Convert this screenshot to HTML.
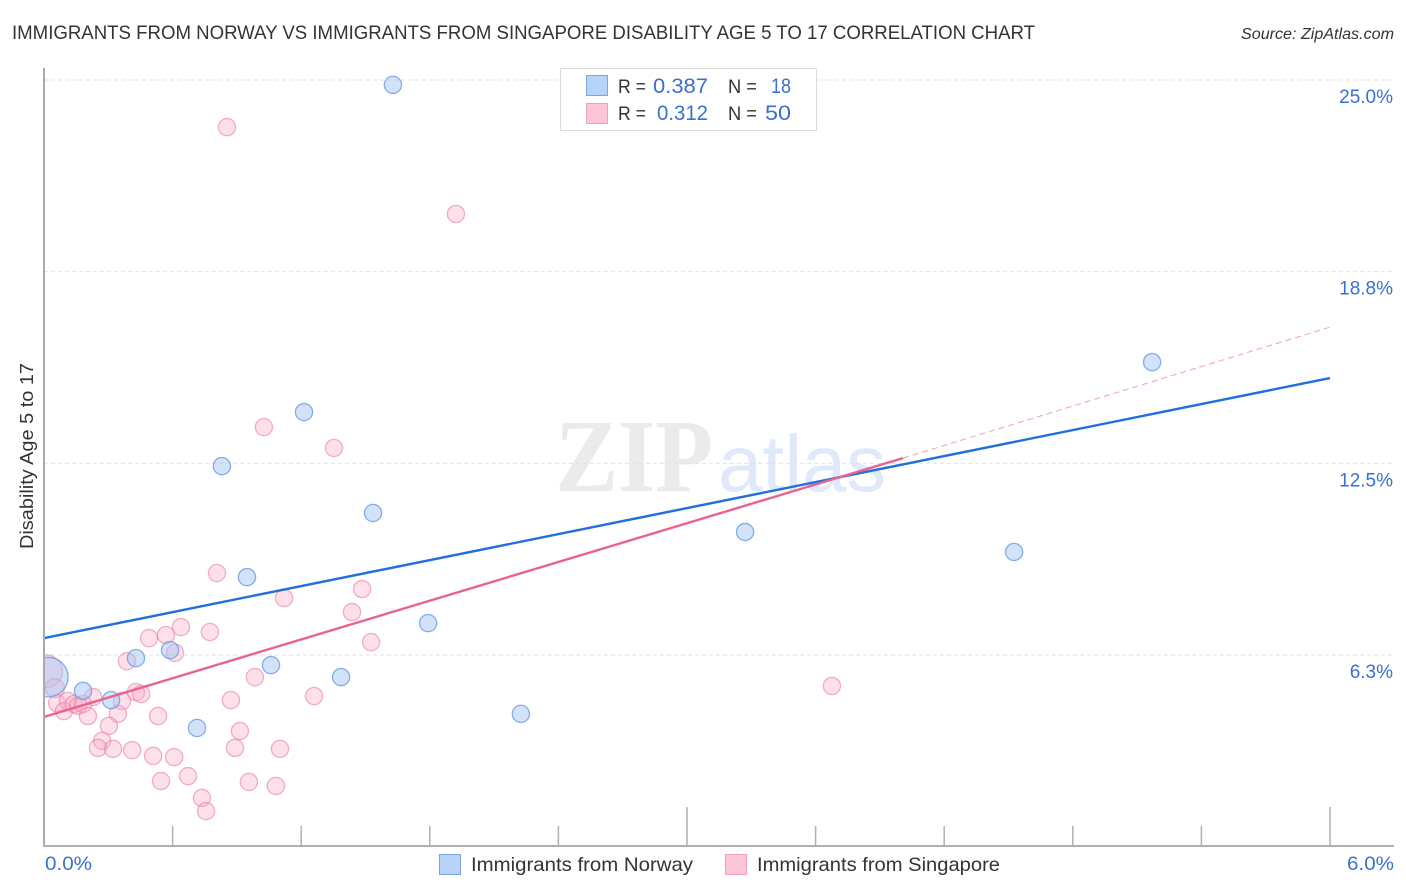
<!DOCTYPE html>
<html lang="en">
<head>
<meta charset="utf-8">
<title>Immigrants from Norway vs Immigrants from Singapore Disability Age 5 to 17 Correlation Chart</title>
<style>
html,body{margin:0;padding:0;background:#fff;}
body{width:1406px;height:892px;overflow:hidden;}
svg{display:block;font-family:"Liberation Sans",sans-serif;}
</style>
</head>
<body>
<svg id="chart" xmlns="http://www.w3.org/2000/svg" width="1406" height="892" viewBox="0 0 1406 892">
  <defs><clipPath id="plot-clip"><rect x="45" y="60" width="1349" height="786"/></clipPath></defs>
  <text x="12" y="39" font-size="19.5" fill="#333" textLength="1023" lengthAdjust="spacingAndGlyphs">IMMIGRANTS FROM NORWAY VS IMMIGRANTS FROM SINGAPORE DISABILITY AGE 5 TO 17 CORRELATION CHART</text>
  <text x="1241" y="39" font-size="16" font-style="italic" fill="#333" textLength="153" lengthAdjust="spacingAndGlyphs">Source: ZipAtlas.com</text>
  <text x="555" y="491" font-family="'Liberation Serif',serif" font-weight="bold" font-size="104" fill="#ebebeb" textLength="158" lengthAdjust="spacingAndGlyphs">ZIP</text>
  <text x="718" y="491" font-size="80" fill="#dfe9f9" textLength="168" lengthAdjust="spacingAndGlyphs">atlas</text>
  <g id="grid"></g>
  <g id="axes"></g>
  <g id="points" clip-path="url(#plot-clip)"></g>
  <g id="trends" clip-path="url(#plot-clip)"></g>
  <g id="labels"></g>
  <text transform="translate(33,456) rotate(-90)" font-size="18" fill="#333" text-anchor="middle" textLength="186" lengthAdjust="spacingAndGlyphs">Disability Age 5 to 17</text>

  <g>
    <rect x="560.5" y="68.5" width="256" height="62" fill="#fff" stroke="#dcdcdc" stroke-width="1"/>
    <rect x="586.5" y="75.5" width="21" height="20" fill="#b8d3f8" stroke="#7aa5e0"/>
    <rect x="586.5" y="103.5" width="21" height="20" fill="#fcc6d8" stroke="#eea0bb"/>
    <text x="618" y="93" font-size="19.5" fill="#333" textLength="28" lengthAdjust="spacingAndGlyphs">R =</text>
    <text x="653" y="93" font-size="21" fill="#3a70d0" textLength="55" lengthAdjust="spacingAndGlyphs">0.387</text>
    <text x="728" y="93" font-size="19.5" fill="#333" textLength="29" lengthAdjust="spacingAndGlyphs">N =</text>
    <text x="771" y="93" font-size="21" fill="#3a70d0" textLength="20" lengthAdjust="spacingAndGlyphs">18</text>
    <text x="618" y="120" font-size="19.5" fill="#333" textLength="28" lengthAdjust="spacingAndGlyphs">R =</text>
    <text x="657" y="120" font-size="21" fill="#3a70d0" textLength="51" lengthAdjust="spacingAndGlyphs">0.312</text>
    <text x="728" y="120" font-size="19.5" fill="#333" textLength="29" lengthAdjust="spacingAndGlyphs">N =</text>
    <text x="765" y="120" font-size="21" fill="#3a70d0" textLength="26" lengthAdjust="spacingAndGlyphs">50</text>
  </g>

  <g>
    <rect x="439.5" y="854.5" width="21" height="20" fill="#b8d3f8" stroke="#7aa5e0"/>
    <text x="471" y="871" font-size="19.5" fill="#333" textLength="222" lengthAdjust="spacingAndGlyphs">Immigrants from Norway</text>
    <rect x="725.5" y="854.5" width="21" height="20" fill="#fcc6d8" stroke="#eea0bb"/>
    <text x="757" y="871" font-size="19.5" fill="#333" textLength="243" lengthAdjust="spacingAndGlyphs">Immigrants from Singapore</text>
  </g>
</svg>
<script>
const norwayX = [1.628,5.170,1.213,0.830,1.535,3.271,4.526,0.947,1.792,0.429,0.588,1.059,1.386,0.182,0.313,0.714,2.225,0.020];
const norwayY = [24.84,15.80,14.17,12.41,10.88,10.26,9.61,8.79,7.29,6.15,6.41,5.92,5.53,5.08,4.78,3.87,4.33,5.53];
const norwaySize = [1,1,1,1,1,1,1,1,1,1,1,1,1,1,1,1,1,2.3];
const singaporeX = [0.854,1.922,1.026,1.353,0.807,1.484,1.120,1.437,0.639,0.774,0.490,0.569,1.526,0.611,0.387,0.984,0.010,0.051,3.676,0.429,0.453,1.260,0.872,0.364,0.229,0.061,0.112,0.093,0.140,0.159,0.182,0.205,0.345,0.532,0.303,0.914,0.271,0.252,0.322,0.411,0.509,0.607,0.891,1.101,0.672,0.546,0.956,1.082,0.737,0.756];
const singaporeY = [23.46,20.63,13.68,13.00,8.92,8.40,8.11,7.65,7.16,7.00,6.80,6.90,6.67,6.32,6.05,5.53,5.72,5.17,5.24,5.04,4.98,4.91,4.78,4.75,4.88,4.68,4.75,4.42,4.65,4.59,4.65,4.26,4.33,4.26,3.94,3.77,3.45,3.22,3.19,3.15,2.96,2.92,3.22,3.19,2.30,2.14,2.11,1.98,1.59,1.16];
const singaporeSize = [1,1,1,1,1,1,1,1,1,1,1,1,1,1,1,1,1.9,1.1,1,1,1,1,1,1,1,1,1,1,1,1,1,1,1,1,1,1,1,1,1,1,1,1,1,1,1,1,1,1,1,1];
const yTickValues = [6.25,12.5,18.75,25];
const yTickLabels = ["6.3%","12.5%","18.8%","25.0%"];
const xTickValues = [0,0.6,1.2,1.8,2.4,3,3.6,4.2,4.8,5.4,6];
const xTickMajor = [0,0,0,0,0,1,0,0,0,0,1];
const xEndLabels = ["0.0%","6.0%"];
const norwayTrendX = [0,6];
const norwayTrendY = [6.80,15.28];
const singaporeTrendX = [0,4.008];
const singaporeTrendY = [4.23,12.67];
const singaporeDashX = [4.008,6];
const singaporeDashY = [12.67,16.94];

const NS = 'http://www.w3.org/2000/svg';
function xScale(v){ return 44 + v * 1286 / 6; }
function yScale(v){ return 655 - (v - 6.25) * 30.67; }
function make(tag, parent, attrs){
  const el = document.createElementNS(NS, tag);
  for (const k in attrs) el.setAttribute(k, attrs[k]);
  document.getElementById(parent).appendChild(el);
  return el;
}

yTickValues.forEach(function(v, i){
  const g = make('line', 'grid', {x1:44, x2:1394, y1:yScale(v), y2:yScale(v), stroke:'#e2e2e2', 'stroke-width':1, 'stroke-dasharray':'4 3'});
  
  
  const t = make('text', 'labels', {x:1393, y:yScale(v) + 23, 'font-size':19, fill:'#3a70d0', 'text-anchor':'end'});
  t.textContent = yTickLabels[i];
  
  
});

const yAxis = make('line', 'axes', {x1:44, x2:44, y1:68, y2:847, stroke:'#aaa', 'stroke-width':2});


const xAxis = make('line', 'axes', {x1:43, x2:1394, y1:846, y2:846, stroke:'#b0b0b0', 'stroke-width':2});



xTickValues.forEach(function(v, i){
  if (v === 0) return;
  const tick = make('line', 'axes', {x1:xScale(v), x2:xScale(v), y1:xTickMajor[i] ? 807 : 826, y2:846, stroke:'#b0b0b0', 'stroke-width':1.5});
  
  
});

const xLeft = make('text', 'labels', {x:45, y:870, 'font-size':19, fill:'#3a70d0', textLength:47, lengthAdjust:'spacingAndGlyphs'});
xLeft.textContent = xEndLabels[0];


const xRight = make('text', 'labels', {x:1347, y:870, 'font-size':19, fill:'#3a70d0', textLength:47, lengthAdjust:'spacingAndGlyphs'});
xRight.textContent = xEndLabels[1];



singaporeX.forEach(function(v, i){
  const c = make('circle', 'points', {cx:xScale(v), cy:yScale(singaporeY[i]), r:8.6 * singaporeSize[i], fill:'#f9a8c4', 'fill-opacity':0.36, stroke:'#e87ea4', 'stroke-opacity':0.6, 'stroke-width':1.3});
  
  
});
norwayX.forEach(function(v, i){
  const c = make('circle', 'points', {cx:xScale(v), cy:yScale(norwayY[i]), r:8.6 * norwaySize[i], fill:'#a5c6f3', 'fill-opacity':0.5, stroke:'#6c9be0', 'stroke-opacity':0.8, 'stroke-width':1.3});
  
  
});

const dash = make('line', 'trends', {x1:xScale(singaporeDashX[0]), x2:xScale(singaporeDashX[1]), y1:yScale(singaporeDashY[0]), y2:yScale(singaporeDashY[1]), stroke:'#eda0ba', 'stroke-width':1, 'stroke-dasharray':'6 4'});


const blueLine = make('line', 'trends', {x1:xScale(norwayTrendX[0]), x2:xScale(norwayTrendX[1]), y1:yScale(norwayTrendY[0]), y2:yScale(norwayTrendY[1]), stroke:'#1f6fdc', 'stroke-width':2.4});


const pinkLine = make('line', 'trends', {x1:xScale(singaporeTrendX[0]), x2:xScale(singaporeTrendX[1]), y1:yScale(singaporeTrendY[0]), y2:yScale(singaporeTrendY[1]), stroke:'#ea6292', 'stroke-width':2.4});


</script>
</body>
</html>
